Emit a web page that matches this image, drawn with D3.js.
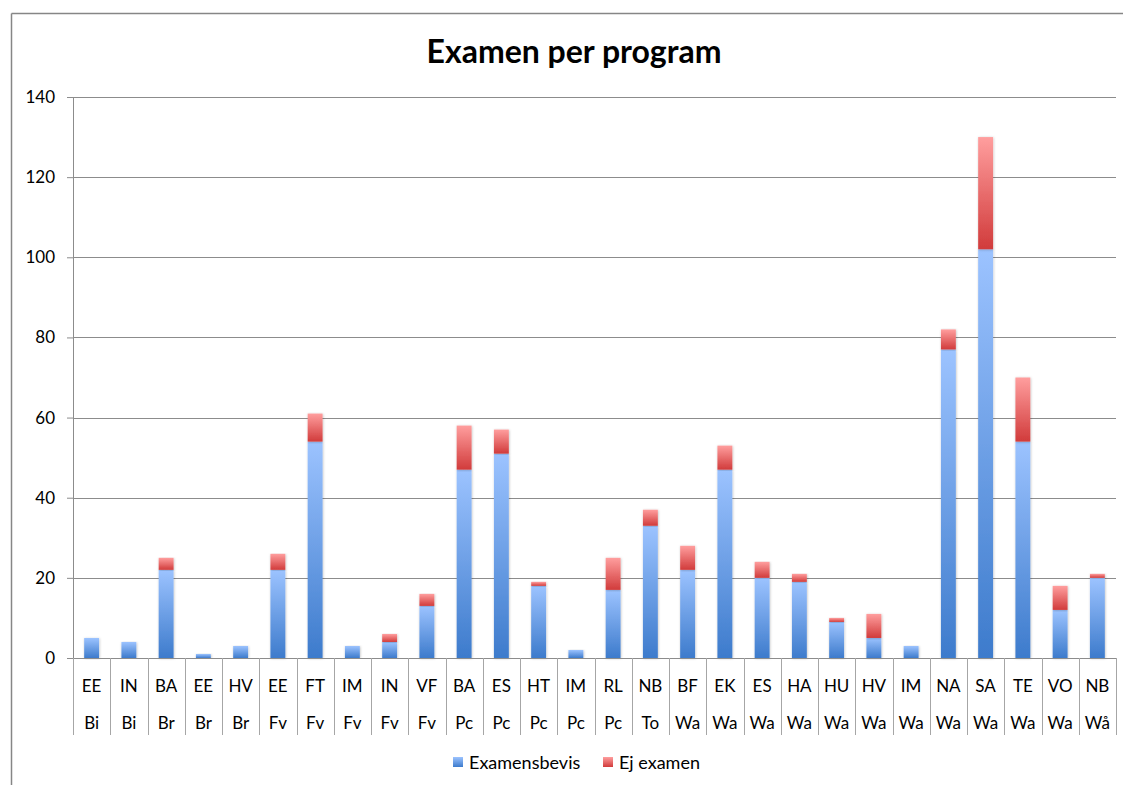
<!DOCTYPE html>
<html>
<head>
<meta charset="utf-8">
<script src="https://cdn.jsdelivr.net/npm/d3@7"></script>
<style>
  body { margin: 0; background: #fff; }
  text { font-family: Lato, "Open Sans", sans-serif; }
</style>
</head>
<body>
<div id="chart"></div>
<script>
// chart data
var programs = ["EE","IN","BA","EE","HV","EE","FT","IM","IN","VF","BA","ES","HT","IM","RL","NB","BF","EK","ES","HA","HU","HV","IM","NA","SA","TE","VO","NB"];
var schools  = ["Bi","Bi","Br","Br","Br","Fv","Fv","Fv","Fv","Fv","Pc","Pc","Pc","Pc","Pc","To","Wa","Wa","Wa","Wa","Wa","Wa","Wa","Wa","Wa","Wa","Wa","Wå"];
var examensbevis = [5,4,22,1,3,22,54,3,4,13,47,51,18,2,17,33,22,47,20,19,9,5,3,77,102,54,12,20];
var ejExamen     = [0,0,3,0,0,4,7,0,2,3,11,6,1,0,8,4,6,6,4,2,1,6,0,5,28,16,6,1];
var seriesNames = ["Examensbevis", "Ej examen"];
var yTicks = [0,20,40,60,80,100,120,140];

var svgWidth = 1123;
var svgHeight = 785;

var margin = { top: 97, right: 7, bottom: 127, left: 73 };
var width = svgWidth - margin.left - margin.right;
var height = svgHeight - margin.top - margin.bottom;

var svg = d3.select("#chart")
  .append("svg")
  .attr("width", svgWidth)
  .attr("height", svgHeight);

// gradients for the bars (light on top, darker at the bottom)
var defs = svg.append("defs");
function addGradient(id, top, bottom) {
  var g = defs.append("linearGradient")
    .attr("id", id)
    .attr("x1", 0).attr("y1", 0).attr("x2", 0).attr("y2", 1);
  g.append("stop").attr("offset", "0%").attr("stop-color", top);
  g.append("stop").attr("offset", "100%").attr("stop-color", bottom);
}
addGradient("gradBlue", "#9cc3ff", "#3d7bcc");
addGradient("gradRed", "#ff9e9e", "#d13b3b");

var filter = defs.append("filter").attr("id", "shadow")
  .attr("x", "-30%").attr("y", "-5%").attr("width", "160%").attr("height", "110%");
filter.append("feDropShadow")
  .attr("dx", 0.5).attr("dy", 0.5).attr("stdDeviation", 1)
  .attr("flood-color", "#000").attr("flood-opacity", 0.25);

// outer frame (top and left edges only visible in the picture)
svg.append("line")
  .attr("x1", 11.5).attr("x2", svgWidth).attr("y1", 13.5).attr("y2", 13.5)
  .attr("stroke", "#868686").attr("stroke-width", 1.5);
svg.append("line")
  .attr("x1", 11.5).attr("x2", 11.5).attr("y1", 13.5).attr("y2", svgHeight)
  .attr("stroke", "#868686").attr("stroke-width", 1.5);

// title
svg.append("text")
  .attr("x", 574)
  .attr("y", 63)
  .attr("text-anchor", "middle")
  .attr("font-size", "32px")
  .attr("font-weight", "bold")
  .attr("fill", "#000")
  .text("Examen per program");

var chartGroup = svg.append("g")
  .attr("transform", `translate(${margin.left}, ${margin.top})`);

var idx = d3.range(programs.length);

var xBandScale = d3.scaleBand()
  .domain(idx)
  .range([0, width])
  .paddingInner(0.6)
  .paddingOuter(0.3);

var yLinearScale = d3.scaleLinear()
  .domain([0, 140])
  .range([height, 0]);

// gridlines
chartGroup.append("g")
  .selectAll("line")
  .data(yTicks.slice(1))
  .enter()
  .append("line")
  .attr("x1", 0)
  .attr("x2", width)
  .attr("y1", d => Math.round(yLinearScale(d)) + 0.5)
  .attr("y2", d => Math.round(yLinearScale(d)) + 0.5)
  .attr("stroke", "#8c8c8c")
  .attr("stroke-width", 1);

// left axis
var leftAxis = d3.axisLeft(yLinearScale)
  .tickValues(yTicks)
  .tickSize(6)
  .tickPadding(12);

var yAxis = chartGroup.append("g").call(leftAxis);
yAxis.select(".domain").attr("stroke", "#8c8c8c");
yAxis.selectAll(".tick line").attr("stroke", "#8c8c8c");
yAxis.selectAll(".tick text")
  .attr("font-size", "17px")
  .attr("fill", "#000")
  .style("font-family", "Lato, 'Open Sans', sans-serif");

// stacked bars
var stackData = idx.map(i => ({ i: i, a: examensbevis[i], b: ejExamen[i] }));
var stack = d3.stack().keys(["a", "b"]);
var layers = stack(stackData);
var fills = ["url(#gradBlue)", "url(#gradRed)"];

var layerGroups = chartGroup.selectAll(".layer")
  .data(layers)
  .enter()
  .append("g")
  .attr("class", "layer")
  .attr("fill", (d, k) => fills[k]);

layerGroups.selectAll("rect")
  .data(d => d.filter(s => s[1] - s[0] > 0))
  .enter()
  .append("rect")
  .attr("x", d => xBandScale(d.data.i))
  .attr("y", d => yLinearScale(d[1]))
  .attr("width", xBandScale.bandwidth())
  .attr("height", d => yLinearScale(d[0]) - yLinearScale(d[1]))
  .attr("filter", "url(#shadow)");

// category axis: baseline, separators and two label rows
var step = width / programs.length;
chartGroup.append("line")
  .attr("x1", 0).attr("x2", width)
  .attr("y1", height + 0.5).attr("y2", height + 0.5)
  .attr("stroke", "#8c8c8c");

chartGroup.append("g")
  .selectAll("line")
  .data(d3.range(programs.length + 1))
  .enter()
  .append("line")
  .attr("x1", d => Math.round(d * step) + 0.5)
  .attr("x2", d => Math.round(d * step) + 0.5)
  .attr("y1", height)
  .attr("y2", height + 77)
  .attr("stroke", "#a6a6a6");

chartGroup.append("g")
  .selectAll("text")
  .data(idx)
  .enter()
  .append("text")
  .attr("x", d => xBandScale(d) + xBandScale.bandwidth() / 2)
  .attr("y", height + 34)
  .attr("text-anchor", "middle")
  .attr("font-size", "17px")
  .attr("fill", "#000")
  .text(d => programs[d]);

chartGroup.append("g")
  .selectAll("text")
  .data(idx)
  .enter()
  .append("text")
  .attr("x", d => xBandScale(d) + xBandScale.bandwidth() / 2)
  .attr("y", height + 71)
  .attr("text-anchor", "middle")
  .attr("font-size", "17px")
  .attr("fill", "#000")
  .text(d => schools[d]);

// legend
var legend = svg.append("g").attr("transform", "translate(453, 763)");
var legendX = [0, 150];
legend.selectAll("rect")
  .data(seriesNames)
  .enter()
  .append("rect")
  .attr("x", (d, k) => legendX[k])
  .attr("y", -6)
  .attr("width", 10)
  .attr("height", 10)
  .attr("fill", (d, k) => fills[k]);

legend.selectAll("text")
  .data(seriesNames)
  .enter()
  .append("text")
  .attr("x", (d, k) => legendX[k] + 16)
  .attr("y", 6)
  .attr("font-size", "18px")
  .attr("fill", "#000")
  .text(d => d);
</script>
</body>
</html>
